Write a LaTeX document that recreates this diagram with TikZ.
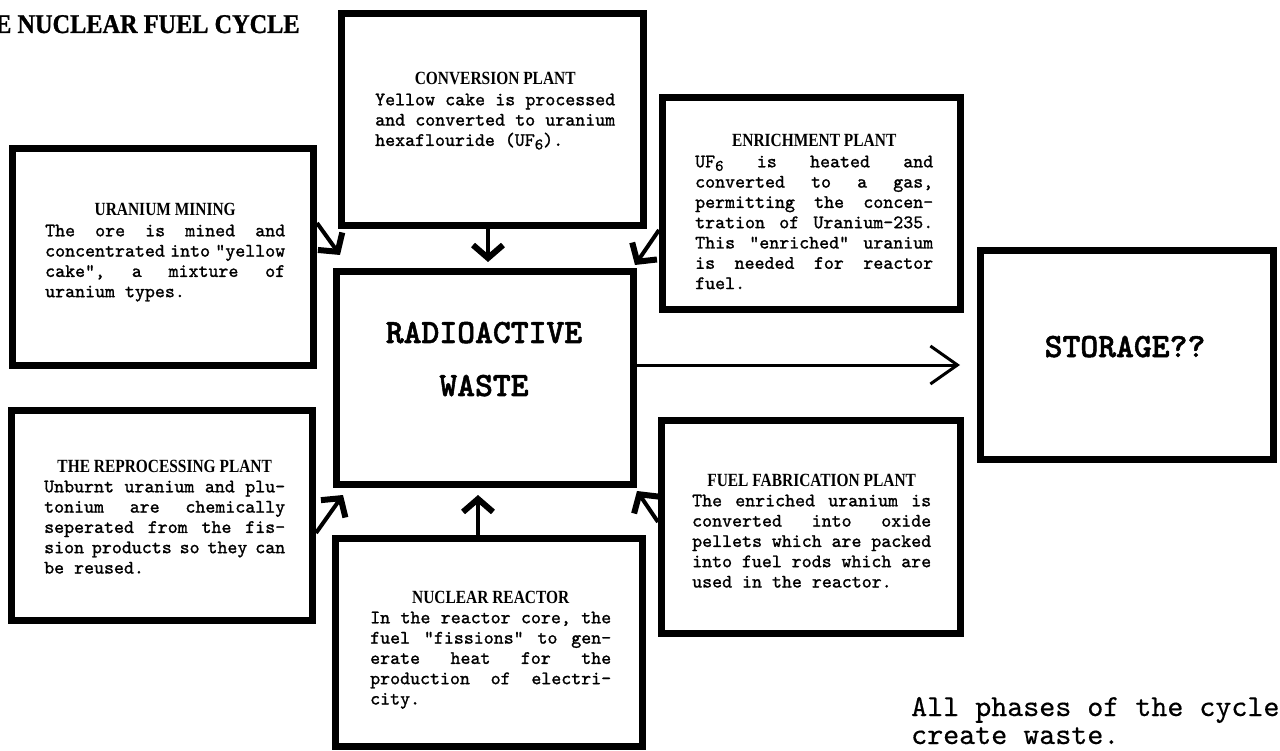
\documentclass[tikz,border=0pt]{standalone}
\usepackage{fontspec}
\usetikzlibrary{arrows.meta}
\newfontfamily\headfont{Liberation Serif}[FakeStretch=0.83]
\newfontfamily\ttlfont{Liberation Serif}[FakeStretch=0.9, FakeBold=1]
\newfontfamily\bodyfont{lmmono10-regular}[Extension=.otf, FakeBold=1.2]
\newfontfamily\notefont{lmmono10-regular}[Extension=.otf, FakeBold=0.5]
\newfontfamily\bigfont{lmmonolt10-bold}[Extension=.otf, FakeBold=1.5]
\newcommand\jl[1]{\makebox[\linewidth][s]{\frenchspacing\spaceskip=0.525em plus 1fil minus 0.3em\relax #1}}
\newcommand\hd[1]{\makebox[\linewidth]{\headfont\bfseries\fontsize{18.6}{20.3}\selectfont #1}}
\newcommand\bodytext[2]{\parbox[t]{#1}{\bodyfont\fontsize{19}{20.3}\selectfont\frenchspacing #2}}
\newcommand\subsix{\raisebox{-3.5pt}{\fontsize{16}{16}\selectfont 6}}
\tikzset{
  box/.style={draw=black, line width=7pt, inner sep=0pt, fill=white},
  txt/.style={anchor=base west, inner sep=0pt},
  chunk/.style={line width=4pt, -{Straight Barb[length=13pt,width=30pt,line width=6pt]}},
  thinarrow/.style={line width=3pt, -{Straight Barb[length=27pt,width=38pt]}}
}
\begin{document}
\begin{tikzpicture}[x=1pt,y=-1pt]
\fill[white] (0,0) rectangle (1280,751);
\useasboundingbox (0,0) rectangle (1280,751);

% title
\node[txt, font={\ttlfont\bfseries\fontsize{27}{30}\selectfont}] (title) at (-5,33) {E NUCLEAR FUEL CYCLE};

% boxes
\node[box, minimum width=301pt, minimum height=217pt] (mining) at (163,257) {};
\node[box, minimum width=302pt, minimum height=212pt] (conv) at (492.5,119.5) {};
\node[box, minimum width=298pt, minimum height=212pt] (enrich) at (811.5,203.5) {};
\node[box, minimum width=297pt, minimum height=213pt] (waste) at (485,378) {};
\node[box, minimum width=293pt, minimum height=209pt] (storage) at (1127,355) {};
\node[box, minimum width=301pt, minimum height=210pt] (reproc) at (162,515.5) {};
\node[box, minimum width=307pt, minimum height=208pt] (reactor) at (489,642.5) {};
\node[box, minimum width=299pt, minimum height=213pt] (fuel) at (811,527) {};

% box texts
\node[txt] (miningT) at (45,216) {\bodytext{240pt}{%
\hd{URANIUM MINING}\\
\jl{The ore is mined and}\\
\jl{concentrated into "yellow}\\
\jl{cake", a mixture of}\\
uranium types.}};

\node[txt] (convT) at (375,85) {\bodytext{240pt}{%
\hd{CONVERSION PLANT}\\
\jl{Yellow cake is processed}\\
\jl{and converted to uranium}\\
hexaflouride (UF\subsix).}};

\node[txt] (enrichT) at (695,147) {\bodytext{238pt}{%
\hd{ENRICHMENT PLANT}\\
\jl{UF\subsix{} is heated and}\\
\jl{converted to a gas,}\\
\jl{permitting the concen-}\\
\jl{tration of Uranium-235.}\\
\jl{This "enriched" uranium}\\
\jl{is needed for reactor}\\
fuel.}};

\node[txt] (reprocT) at (44,472) {\bodytext{241pt}{%
\hd{THE REPROCESSING PLANT}\\
\jl{Unburnt uranium and plu-}\\
\jl{tonium are chemically}\\
\jl{seperated from the fis-}\\
\jl{sion products so they can}\\
be reused.}};

\node[txt] (reactorT) at (370,603) {\bodytext{241pt}{%
\hd{NUCLEAR REACTOR}\\
\jl{In the reactor core, the}\\
\jl{fuel "fissions" to gen-}\\
\jl{erate heat for the}\\
\jl{production of electri-}\\
city.}};

\node[txt] (fuelT) at (692,486) {\bodytext{239pt}{%
\hd{FUEL FABRICATION PLANT}\\
\jl{The enriched uranium is}\\
\jl{converted into oxide}\\
\jl{pellets which are packed}\\
\jl{into fuel rods which are}\\
used in the reactor.}};

\node[anchor=base, inner sep=0pt] (wasteT) at (484,343) {\parbox[t]{300pt}{\centering\bigfont\fontsize{34}{53}\selectfont RADIOACTIVE\\WASTE}};

\node[anchor=base, inner sep=0pt, font={\bigfont\fontsize{34}{40}\selectfont}] (storT) at (1125,357) {STORAGE??};

\node[txt] (note) at (911,716) {\parbox[t]{380pt}{\raggedright\notefont\fontsize{30.5}{28}\selectfont All phases of the cycle\\create waste.}};

% arrows
\draw[chunk] ([yshift=-78pt]mining.north east) -- ([xshift=7pt,yshift=13pt]waste.north west);
\draw[chunk] ([xshift=-4.5pt]conv.south) -- ([xshift=3pt,yshift=6pt]waste.north);
\draw[chunk] ([yshift=-26.5pt]enrich.west) -- ([xshift=-2pt,yshift=3pt]waste.north east);
\draw[chunk] ([yshift=-17.5pt]reproc.east) -- ([xshift=10pt,yshift=-7pt]waste.south west);
\draw[chunk] ([xshift=-11pt]reactor.north) -- ([xshift=-7pt,yshift=-7pt]waste.south);
\draw[chunk] ([yshift=5pt]fuel.west) -- ([yshift=-3pt]waste.south east);
\draw[thinarrow] ([yshift=13pt]waste.east) -- ([xshift=-17pt,yshift=-10pt]storage.west);
\end{tikzpicture}
\end{document}
